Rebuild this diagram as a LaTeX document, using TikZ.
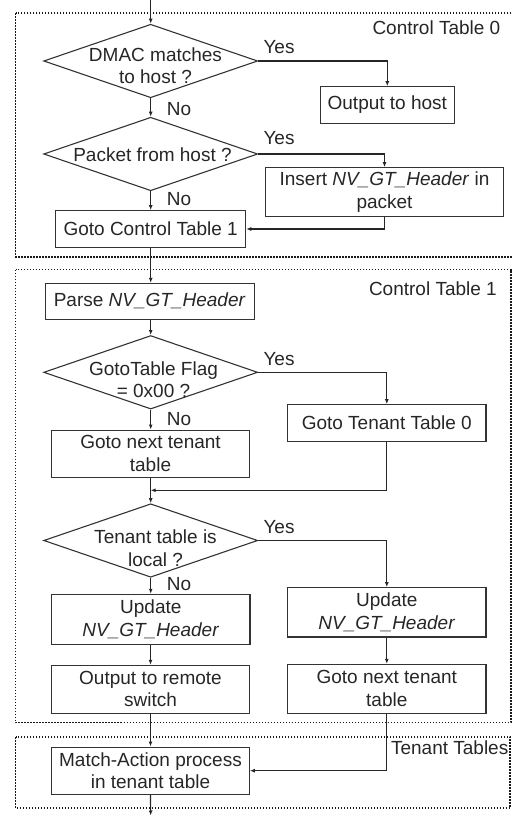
\documentclass[tikz,border=0pt]{standalone}
\usepackage{fontspec}
\setmainfont{Liberation Sans}
\usetikzlibrary{arrows.meta,shapes.geometric}

\begin{document}
\begin{tikzpicture}[x=1pt,y=-1pt,
  font=\fontsize{19}{22.5}\selectfont,
  box/.style={draw=black!80, line width=1.1pt, rectangle, align=center, inner sep=0pt, text=black!85},
  decision/.style={draw=black!80, line width=1.1pt, diamond, inner sep=0pt, minimum width=214pt, minimum height=73.5pt},
  dtext/.style={align=center, inner sep=0pt, text=black!85},
  flow/.style={draw=black!85, line width=1.2pt, -{Latex[length=5pt,width=4pt]}},
  frame/.style={draw=black!90, line width=1.9pt, dash pattern=on 1.6pt off 1.4pt},
  tag/.style={inner sep=0pt, text=black!85},
  title/.style={inner sep=0pt, anchor=east, text=black!85}]

\useasboundingbox (0,0) rectangle (513,821);

% dotted frames of the three table stages
\draw[frame] (15.5,13.3) rectangle (513.5,256.7);
\draw[frame] (15.5,269.5) rectangle (510.8,722.5);
\draw[frame] (15.5,737) rectangle (510.3,808);

\node[title] (t0) at (500.5,27.7) {Control Table 0};
\node[title] (t1) at (497,289) {Control Table 1};
\node[title] (t2) at (508.5,747.7) {Tenant Tables};

% decisions
\node[decision] (d1) at (150.7,61) {};
\node[dtext] (q1) at (155.5,65.7) {DMAC matches\\to host ?};
\node[decision] (d2) at (150.7,154) {};
\node[dtext] (q2) at (152.5,154.3) {Packet from host ?};
\node[decision] (d3) at (150.7,372.3) {};
\node[dtext] (q3) at (153.5,379.8) {GotoTable Flag\\= 0x00 ?};
\node[decision] (d4) at (150.7,540.5) {};
\node[dtext] (q4) at (155.5,548) {Tenant table is\\local ?};

% process boxes
\node[box, minimum width=134pt, minimum height=36.6pt] (host) at (387.3,105) {Output to host};
\node[box, minimum width=238.4pt, minimum height=49pt] (ins) at (384.5,192.2) {Insert \textit{NV\_GT\_Header} in\\packet};
\node[box, minimum width=190pt, minimum height=36.6pt] (g1) at (150.7,229) {Goto Control Table 1};
\node[box, minimum width=209.3pt, minimum height=35.7pt] (parse) at (149.7,301.2) {Parse \textit{NV\_GT\_Header}};
\node[box, minimum width=198.3pt, minimum height=36.6pt] (tt0) at (386.8,423) {Goto Tenant Table 0};
\node[box, minimum width=197.6pt, minimum height=47.3pt] (gn1) at (150.5,453.7) {Goto next tenant\\table};
\node[box, minimum width=198.3pt, minimum height=50pt] (up1) at (150.8,619.3) {Update\\\textit{NV\_GT\_Header}};
\node[box, minimum width=198.3pt, minimum height=49.3pt] (up2) at (386.8,612.3) {Update\\\textit{NV\_GT\_Header}};
\node[box, minimum width=197.6pt, minimum height=47.7pt] (out) at (150.5,689.2) {Output to remote\\switch};
\node[box, minimum width=198.3pt, minimum height=48.7pt] (gn2) at (386.8,688.7) {Goto next tenant\\table};
\node[box, minimum width=197.6pt, minimum height=47.3pt] (ma) at (150.5,770.7) {Match-Action process\\in tenant table};

% branch labels
\node[tag] (y1) at (279,46.7) {Yes};
\node[tag] (y2) at (279,138.3) {Yes};
\node[tag] (y3) at (279,359) {Yes};
\node[tag] (y4) at (279,527.3) {Yes};
\node[tag] (n1) at (179,109) {No};
\node[tag] (n2) at (179,199.3) {No};
\node[tag] (n3) at (179,419) {No};
\node[tag] (n4) at (179,584.3) {No};

% connectors
\coordinate (entry) at (150.7,0);
\coordinate (join) at (150.7,490.3);
\coordinate (exit) at (150.7,815.5);

\draw[flow] (entry) -- (d1.north);
\draw[flow] (d1.east) -| (host.north);
\draw[flow] (d1.south) -- (d2.north);
\draw[flow] (d2.east) -| (ins.north);
\draw[flow] (d2.south) -- (g1.north);
\draw[flow] (ins.south) |- (g1.east);
\draw[flow] (g1.south) -- (g1.south |- parse.north);
\draw[flow] (parse.south -| d3.north) -- (d3.north);
\draw[flow] (d3.east) -| (tt0.north);
\draw[flow] (d3.south) -- (d3.south |- gn1.north);
\draw[flow] (tt0.south) |- (join);
\draw[flow] (gn1.south -| d4.north) -- (d4.north);
\draw[flow] (d4.east) -| (up2.north);
\draw[flow] (d4.south) -- (d4.south |- up1.north);
\draw[flow] (up1.south -| out.north) -- (out.north);
\draw[flow] (up2.south) -- (up2.south |- gn2.north);
\draw[flow] (out.south) -- (out.south |- ma.north);
\draw[flow] (gn2.south) |- (ma.east);
\draw[flow] (ma.south) -- (exit);
\end{tikzpicture}
\end{document}
